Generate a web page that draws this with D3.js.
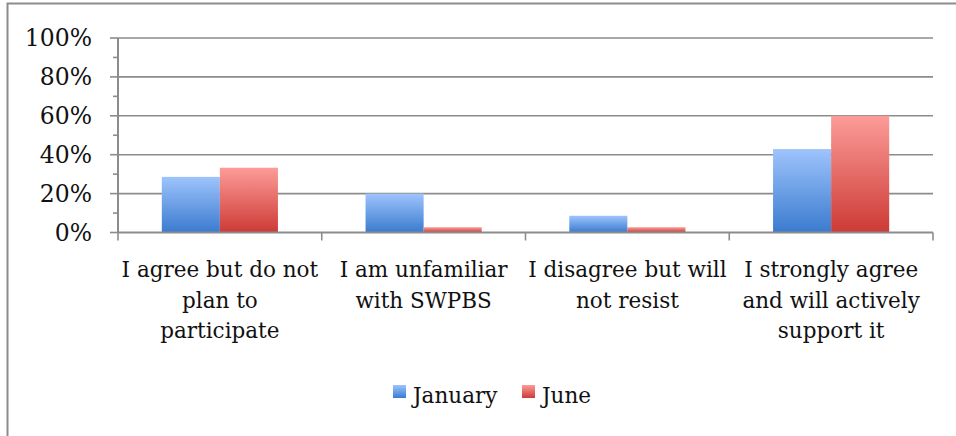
<!DOCTYPE html>
<html>
<head>
<meta charset="utf-8">
<script src="https://cdn.jsdelivr.net/npm/d3@7"></script>
<style>
  html, body { margin: 0; padding: 0; background: #fff; }
  svg { display: block; }
  text { font-family: "DejaVu Serif", serif; fill: #111; }
</style>
</head>
<body>
<div id="chart"></div>
<script>
// 데이터
const categories = [
    ['I agree but do not', 'plan to', 'participate'],
    ['I am unfamiliar', 'with SWPBS'],
    ['I disagree but will', 'not resist'],
    ['I strongly agree', 'and will actively', 'support it']
];
const seriesNames = ['January', 'June'];
const january = [0.286, 0.20, 0.086, 0.429];
const june = [0.333, 0.027, 0.027, 0.60];
const yTicks = [0, 0.2, 0.4, 0.6, 0.8, 1.0];
const yMinorTicks = [0.1, 0.3, 0.5, 0.7, 0.9];

const W = 956, H = 436;
const plot = { left: 118, right: 933, top: 38, bottom: 232.5 };

const svg = d3.select('#chart').append('svg')
    .attr('width', W)
    .attr('height', H);

const defs = svg.append('defs');
const grads = [
    { id: 'g-jan', top: '#9ec4fc', bottom: '#3a7bcf' },
    { id: 'g-jun', top: '#fc9c99', bottom: '#cd3a35' }
];
grads.forEach(g => {
    const lg = defs.append('linearGradient')
        .attr('id', g.id)
        .attr('x1', 0).attr('y1', 0).attr('x2', 0).attr('y2', 1);
    lg.append('stop').attr('offset', '0%').attr('stop-color', g.top);
    lg.append('stop').attr('offset', '100%').attr('stop-color', g.bottom);
});
const colors = ['url(#g-jan)', 'url(#g-jun)'];

// 차트 테두리
svg.append('path')
    .attr('d', `M7.5,${H} V3.5 H${W}`)
    .attr('fill', 'none')
    .attr('stroke', '#8c8c8c')
    .attr('stroke-width', 2);

// Scale
const yScale = d3.scaleLinear()
    .domain([0, 1])
    .range([plot.bottom, plot.top]);

const x0 = d3.scaleBand()
    .domain(d3.range(categories.length))
    .range([plot.left, plot.right])
    .paddingInner(0.43)
    .paddingOuter(0.215);

const x1 = d3.scaleBand()
    .domain(seriesNames)
    .range([0, x0.bandwidth()]);

// 그리드
svg.append('g')
    .selectAll('line')
    .data(yTicks.filter(d => d > 0))
    .join('line')
    .attr('x1', plot.left)
    .attr('x2', plot.right)
    .attr('y1', d => yScale(d))
    .attr('y2', d => yScale(d))
    .attr('stroke', '#8c8c8c')
    .attr('stroke-width', 1.6);

// 막대
const data = [january, june];
const groups = svg.append('g')
    .selectAll('g')
    .data(categories.map((c, i) => i))
    .join('g')
    .attr('transform', i => `translate(${x0(i)},0)`);

groups.selectAll('rect')
    .data(i => seriesNames.map((s, k) => ({ s, k, v: data[k][i] })))
    .join('rect')
    .attr('x', d => x1(d.s))
    .attr('y', d => yScale(d.v))
    .attr('width', x1.bandwidth())
    .attr('height', d => plot.bottom - yScale(d.v))
    .attr('fill', d => colors[d.k]);

// Y축
const yAxis = svg.append('g')
    .attr('transform', `translate(${plot.left},0)`);
yAxis.append('line')
    .attr('x1', 0).attr('x2', 0)
    .attr('y1', plot.top).attr('y2', plot.bottom)
    .attr('stroke', '#8c8c8c').attr('stroke-width', 2);
yAxis.selectAll('.major')
    .data(yTicks)
    .join('line')
    .attr('class', 'major')
    .attr('x1', -8).attr('x2', 0)
    .attr('y1', d => yScale(d)).attr('y2', d => yScale(d))
    .attr('stroke', '#8c8c8c').attr('stroke-width', 1.6);
yAxis.selectAll('.minor')
    .data(yMinorTicks)
    .join('line')
    .attr('class', 'minor')
    .attr('x1', -5).attr('x2', 0)
    .attr('y1', d => yScale(d)).attr('y2', d => yScale(d))
    .attr('stroke', '#8c8c8c').attr('stroke-width', 1.6);
yAxis.selectAll('text')
    .data(yTicks)
    .join('text')
    .attr('x', -26)
    .attr('y', d => yScale(d))
    .attr('dy', '0.36em')
    .attr('text-anchor', 'end')
    .style('font-size', '23.5px')
    .text(d => d3.format('.0%')(d));

// X축
const xAxis = svg.append('g');
xAxis.append('line')
    .attr('x1', plot.left).attr('x2', plot.right)
    .attr('y1', plot.bottom).attr('y2', plot.bottom)
    .attr('stroke', '#8c8c8c').attr('stroke-width', 2);
xAxis.selectAll('.tick')
    .data(d3.range(categories.length + 1))
    .join('line')
    .attr('class', 'tick')
    .attr('x1', i => plot.left + i * x0.step())
    .attr('x2', i => plot.left + i * x0.step())
    .attr('y1', plot.bottom).attr('y2', plot.bottom + 8)
    .attr('stroke', '#8c8c8c').attr('stroke-width', 1.6);

const labels = xAxis.selectAll('.label')
    .data(categories)
    .join('text')
    .attr('class', 'label')
    .attr('text-anchor', 'middle')
    .style('font-size', '21.5px')
    .attr('transform', (d, i) => `translate(${x0(i) + x0.bandwidth() / 2},277)`);
labels.selectAll('tspan')
    .data(d => d)
    .join('tspan')
    .attr('x', 0)
    .attr('y', (d, j) => j * 30.5)
    .text(d => d);

// 범례
const legend = svg.append('g');
const legendX = [393, 522];
seriesNames.forEach((s, k) => {
    legend.append('rect')
        .attr('x', legendX[k])
        .attr('y', 385)
        .attr('width', 13)
        .attr('height', 13)
        .attr('fill', colors[k]);
    legend.append('text')
        .attr('x', legendX[k] + 20)
        .attr('y', 403)
        .style('font-size', '21.5px')
        .text(s);
});
</script>
</body>
</html>
